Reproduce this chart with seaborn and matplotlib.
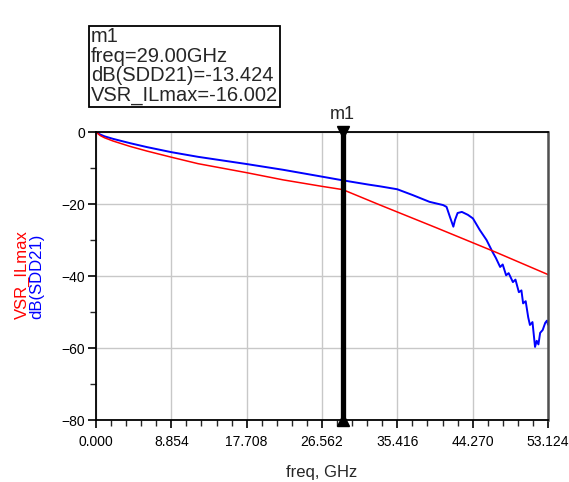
import matplotlib
matplotlib.use("Agg")
import matplotlib.pyplot as plt
import seaborn as sns
import pandas as pd
import numpy as np
from matplotlib.ticker import FixedLocator, AutoMinorLocator

# ---- data ----
vsr_freq = [0, 0.5, 1, 2, 4, 6, 8.854, 12, 17.708, 22, 26.562, 29, 33.4, 40, 47, 53.124]
vsr_db = [0, -1.0, -1.6, -2.5, -4.0, -5.3, -7.0, -8.8, -11.3, -13.3, -15.1, -16.002,
          -20.3, -26.6, -33.4, -39.6]

sdd_freq = [0, 0.5, 1, 2, 4, 6, 8.854, 12, 17.708, 22, 26.562, 29, 32, 33.4, 35.4, 37.2,
            39.2, 40.8, 41.2, 41.6, 42.0, 42.2, 42.5, 43.0, 43.7, 44.3, 45.1, 45.9, 46.6,
            47.0, 47.5, 47.8, 48.2, 48.5, 49.0, 49.3, 49.7, 50.0, 50.2, 50.5, 50.8, 51.0,
            51.3, 51.6, 51.8, 52.0, 52.2, 52.5, 52.8, 53.0, 53.124]
sdd_db = [0, -0.7, -1.2, -1.9, -3.1, -4.2, -5.6, -6.9, -8.9, -10.5, -12.4, -13.424, -14.6,
          -15.1, -15.9, -17.5, -19.4, -20.3, -20.8, -23.6, -26.3, -24.4, -22.5, -22.2, -23.0,
          -24.0, -27.2, -30.0, -33.3, -35.0, -37.5, -36.8, -39.8, -39.2, -41.7, -41.0, -44.5,
          -44.0, -47.6, -47.0, -51.5, -53.6, -52.8, -59.7, -58.0, -59.0, -55.8, -55.0, -53.0,
          -52.4, -53.5]

xticks = [0.0, 8.854, 17.708, 26.562, 35.416, 44.270, 53.124]
xtick_labels = ["0.000", "8.854", "17.708", "26.562", "35.416", "44.270", "53.124"]
yticks = [0, -20, -40, -60, -80]
marker_freq = 29.0
marker_text = ["m1", "freq=29.00GHz", "dB(SDD21)=-13.424", "VSR_ILmax=-16.002"]

sns.set_style("white")
plt.rcParams['font.family'] = ['Liberation Sans', 'DejaVu Sans']

fig = plt.figure(figsize=(5.69, 4.82), dpi=100)
ax = fig.add_axes([96/569, 1-420/482, (548-96)/569, (420-132)/482])

df_v = pd.DataFrame({"freq": vsr_freq, "val": vsr_db})
df_s = pd.DataFrame({"freq": sdd_freq, "val": sdd_db})
sns.lineplot(data=df_s, x="freq", y="val", color="#0000ff", lw=1.4, ax=ax)
sns.lineplot(data=df_v, x="freq", y="val", color="#ff0000", lw=1.1, ax=ax)

ax.set_xlim(0, 53.124)
ax.set_ylim(-80, 0)
ax.xaxis.set_major_locator(FixedLocator(xticks))
ax.set_xticklabels(xtick_labels)
ax.xaxis.set_minor_locator(AutoMinorLocator(5))
ax.yaxis.set_major_locator(FixedLocator(yticks))
ax.yaxis.set_minor_locator(AutoMinorLocator(2))
ax.grid(True, which="major", color="#c8c8c8", lw=1.0)
ax.set_axisbelow(True)
ax.tick_params(axis="both", which="major", direction="out", length=6, width=1.2,
               labelsize=10, colors="black", bottom=True, left=True)
ax.tick_params(axis="x", which="major", pad=5)
ax.tick_params(axis="y", which="major", pad=2)
ax.tick_params(axis="both", which="minor", direction="out", length=4, width=1.0,
               bottom=True, left=True)
for s in ["left", "bottom", "top"]:
    ax.spines[s].set_color("black")
    ax.spines[s].set_linewidth(1.3)
ax.spines["right"].set_color("#505050")
ax.spines["right"].set_linewidth(1.8)

ax.set_xlabel("freq, GHz", fontsize=12, labelpad=11)
ax.set_ylabel("")
fig.text(22/569, 1-275/482, "VSR_ILmax", color="#ff0000", rotation=90,
         fontsize=12, ha="center", va="center")
fig.text(37/569, 1-276/482, "dB(SDD21)", color="#0000ff", rotation=90,
         fontsize=12, ha="center", va="center")

# marker
ax.axvline(marker_freq, color="black", lw=3.8, zorder=5)
ax.plot([marker_freq], [0], marker="v", color="black", markersize=9, clip_on=False, zorder=6)
ax.plot([marker_freq], [-80], marker="^", color="black", markersize=9, clip_on=False, zorder=6)
ax.text(marker_freq, 2.6, "m1", ha="center", va="bottom", fontsize=13)

fig.text(91/569, 1-66/482, "\n".join(marker_text), fontsize=14.5, ha="left", va="center",
         linespacing=1.02,
         bbox=dict(boxstyle="square,pad=0.1", fc="white", ec="black", lw=1.3))

fig.savefig("out.png", dpi=100)
